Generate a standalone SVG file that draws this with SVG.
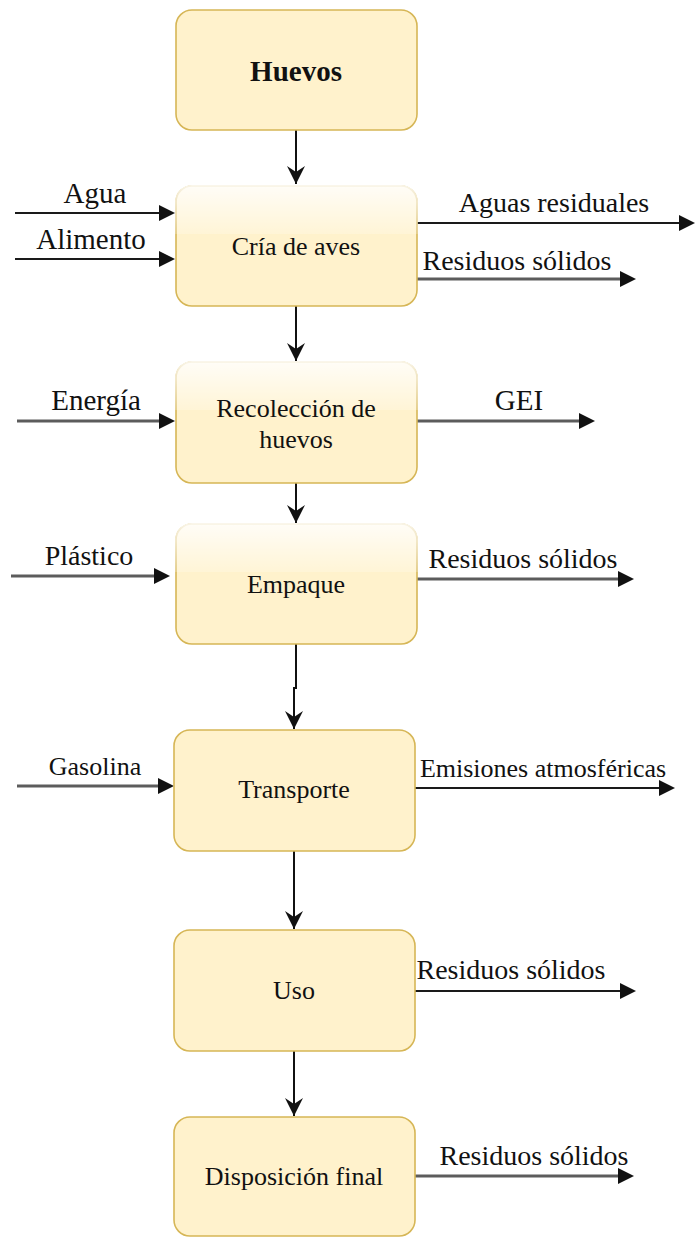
<svg xmlns="http://www.w3.org/2000/svg" width="695" height="1237" viewBox="0 0 695 1237">
  <style>
    .box { fill: #fff2cc; stroke: #d6b656; stroke-width: 1.6; }
    .glass { fill: url(#glassFill); stroke: none; }
    .lbl { font-family: "Liberation Serif", "Times New Roman", serif; fill: #111; }
    .node-lbl { font-size: 26px; text-anchor: middle; }
    .edge-lbl { text-anchor: middle; }
    .flow { fill: none; stroke: #111; stroke-width: 2; }
    .io-dark { fill: none; stroke: #1a1a1a; stroke-width: 2.2; marker-end: url(#block); }
    .io-grey { fill: none; stroke: #5c5c5c; stroke-width: 3; marker-end: url(#block); }
  </style>
  <defs>
    <linearGradient id="glassFill" x1="0" y1="0" x2="0" y2="1">
      <stop offset="0" stop-color="#ffffff" stop-opacity="0.85"/>
      <stop offset="1" stop-color="#ffffff" stop-opacity="0.2"/>
    </linearGradient>
    <!-- filled triangle head for inputs/outputs -->
    <marker id="block" markerUnits="userSpaceOnUse" markerWidth="18" markerHeight="18" refX="8" refY="8" orient="auto" overflow="visible">
      <path d="M0,0 L16,8 L0,16 Z" fill="#111"/>
    </marker>
    <!-- notched head for the main process flow -->
    <marker id="classic" markerUnits="userSpaceOnUse" markerWidth="20" markerHeight="20" refX="18" refY="9" orient="auto" overflow="visible">
      <path d="M0,0 L18,9 L0,18 L6,9 Z" fill="#111"/>
    </marker>
  </defs>

  <!-- process flow connectors -->
  <g id="connectors">
    <path class="flow" d="M296,130 V184" marker-end="url(#classic)"/>
    <path class="flow" d="M296,306 V361" marker-end="url(#classic)"/>
    <path class="flow" d="M296,483 V523" marker-end="url(#classic)"/>
    <path class="flow" d="M296,644 V688 H294 V729" marker-end="url(#classic)"/>
    <path class="flow" d="M294,851 V929" marker-end="url(#classic)"/>
    <path class="flow" d="M294,1051 V1116" marker-end="url(#classic)"/>

    <!-- inputs -->
    <path class="io-dark" d="M15,213 H167"/>
    <path class="io-dark" d="M15,259 H167"/>
    <path class="io-grey" d="M17,421 H167"/>
    <path class="io-grey" d="M11,576 H162"/>
    <path class="io-grey" d="M17,786 H166"/>

    <!-- outputs -->
    <path class="io-dark" d="M417,223 H687"/>
    <path class="io-grey" d="M417,279 H628"/>
    <path class="io-grey" d="M417,421 H587"/>
    <path class="io-grey" d="M417,579 H626"/>
    <path class="io-dark" d="M415,788 H667"/>
    <path class="io-dark" d="M415,991 H628"/>
    <path class="io-grey" d="M415,1176 H626"/>

    <!-- edge labels -->
    <text class="lbl edge-lbl" x="95" y="203" font-size="29">Agua</text>
    <text class="lbl edge-lbl" x="91" y="249" font-size="29">Alimento</text>
    <text class="lbl edge-lbl" x="554" y="212" font-size="28">Aguas residuales</text>
    <text class="lbl edge-lbl" x="517" y="270" font-size="28">Residuos sólidos</text>
    <text class="lbl edge-lbl" x="96" y="410" font-size="29">Energía</text>
    <text class="lbl edge-lbl" x="519" y="410" font-size="29">GEI</text>
    <text class="lbl edge-lbl" x="89" y="565" font-size="28">Plástico</text>
    <text class="lbl edge-lbl" x="523" y="568" font-size="28">Residuos sólidos</text>
    <text class="lbl edge-lbl" x="95" y="775" font-size="26">Gasolina</text>
    <text class="lbl edge-lbl" x="543" y="777" font-size="26">Emisiones atmosféricas</text>
    <text class="lbl edge-lbl" x="511" y="979" font-size="28">Residuos sólidos</text>
    <text class="lbl edge-lbl" x="534" y="1165" font-size="28">Residuos sólidos</text>
  </g>

  <!-- process nodes -->
  <g id="huevos">
    <rect class="box" x="176" y="10" width="241" height="120" rx="16"/>
    <text class="lbl" x="296" y="81" font-size="29" font-weight="bold" text-anchor="middle">Huevos</text>
  </g>
  <g id="cria">
    <rect class="box" x="176" y="186" width="241" height="120" rx="16"/>
    <path class="glass" d="M175,202 A17,17 0 0 1 192,185 H401 A17,17 0 0 1 418,202 V234 H175 Z"/>
    <text class="lbl node-lbl" x="296" y="255">Cría de aves</text>
  </g>
  <g id="recoleccion">
    <rect class="box" x="176" y="362" width="241" height="121" rx="16"/>
    <path class="glass" d="M175,378 A17,17 0 0 1 192,361 H401 A17,17 0 0 1 418,378 V410 H175 Z"/>
    <text class="lbl node-lbl" x="296" y="417">Recolección de</text>
    <text class="lbl node-lbl" x="296" y="448">huevos</text>
  </g>
  <g id="empaque">
    <rect class="box" x="176" y="524" width="241" height="120" rx="16"/>
    <path class="glass" d="M175,540 A17,17 0 0 1 192,523 H401 A17,17 0 0 1 418,540 V572 H175 Z"/>
    <text class="lbl node-lbl" x="296" y="593">Empaque</text>
  </g>
  <g id="transporte">
    <rect class="box" x="174" y="730" width="241" height="121" rx="16"/>
    <text class="lbl node-lbl" x="294" y="798">Transporte</text>
  </g>
  <g id="uso">
    <rect class="box" x="174" y="930" width="241" height="121" rx="16"/>
    <text class="lbl node-lbl" x="294" y="999">Uso</text>
  </g>
  <g id="disposicion">
    <rect class="box" x="174" y="1117" width="241" height="119" rx="16"/>
    <text class="lbl node-lbl" x="294" y="1185">Disposición final</text>
  </g>
</svg>
